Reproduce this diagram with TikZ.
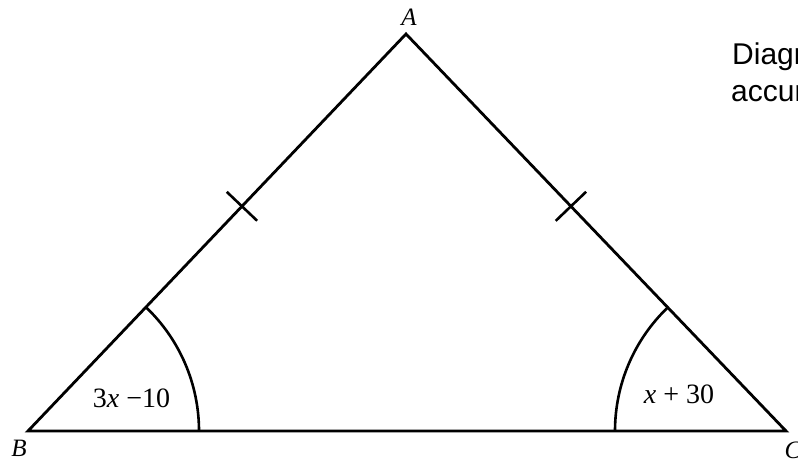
\documentclass[tikz,border=0pt]{standalone}
\usepackage{fontspec}
\setmainfont{Liberation Serif}
\newfontfamily\notefont{Liberation Sans}
\usetikzlibrary{calc}
\begin{document}
\begin{tikzpicture}[x=1pt,y=1pt,
  edge/.style={line width=2.8pt,line join=miter},
  anglearc/.style={line width=2.6pt},
  tickmark/.style={line width=2.6pt},
  vlabel/.style={inner sep=0pt,font=\fontsize{25}{30}\selectfont\itshape},
  alabel/.style={inner sep=0pt,font=\fontsize{28}{33}\selectfont},
  note/.style={inner sep=0pt,anchor=base west,font=\notefont\fontsize{30}{36}\selectfont}]
\useasboundingbox (0,0) rectangle (798,466);
\clip (0,0) rectangle (798,466);
\coordinate (A) at (406,432);
\coordinate (B) at (28,35);
\coordinate (C) at (786,35);
\draw[edge] (B) -- (A) -- (C) -- cycle;
% equal-length tick marks
\coordinate (T1) at ($(B)!0.566!(A)$);
\coordinate (T2) at ($(C)!0.566!(A)$);
\draw[tickmark] ($(T1)!21pt!90:(A)$) -- ($(T1)!21pt!-90:(A)$);
\draw[tickmark] ($(T2)!21pt!90:(A)$) -- ($(T2)!21pt!-90:(A)$);
% angle arcs
\draw[anglearc] ($(B)+(171,0)$) arc[start angle=0,end angle=46.5,radius=171];
\draw[anglearc] ($(C)+(-171,0)$) arc[start angle=180,end angle=133.7,radius=171];
% labels
\node[vlabel] (lA) at (409,449) {A};
\node[vlabel] (lB) at (19,18) {B};
\node[vlabel] (lC) at (793,16) {C};
\node[alabel] (angB) at (131.5,68) {3\textit{x} −10};
\node[alabel] (angC) at (679,72) {\textit{x} + 30};
\node[note] (n1) at (732,401) {Diagr};
\node[note] (n2) at (731,364) {accur};
\end{tikzpicture}
\end{document}
